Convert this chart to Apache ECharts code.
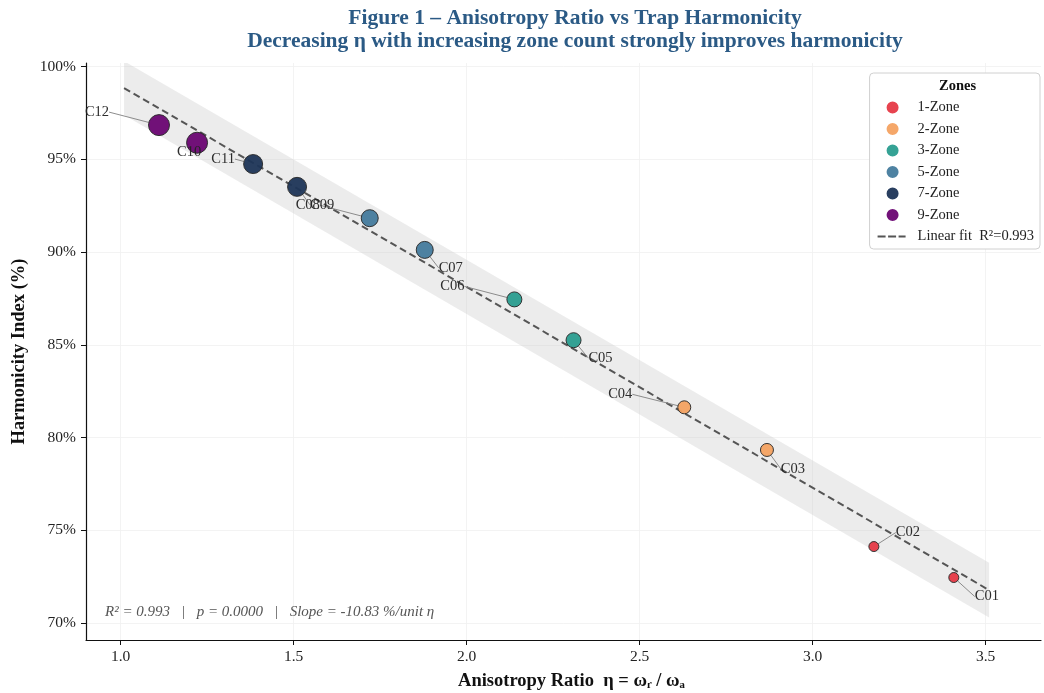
<!DOCTYPE html>
<html>
<head>
<meta charset="utf-8">
<script src="https://cdn.jsdelivr.net/npm/echarts@6/dist/echarts.min.js"></script>
<style>html,body{margin:0;padding:0;background:#fff;}#c{width:1044px;height:693px;}</style>
</head>
<body>
<div id="c"></div>
<script>
// ---- data ----
const names = ['C01','C02','C03','C04','C05','C06','C07','C08','C09','C10','C11','C12'];
const eta   = [3.408, 3.177, 2.868, 2.629, 2.309, 2.138, 1.879, 1.720, 1.510, 1.221, 1.383, 1.111];
const harm  = [72.45, 74.12, 79.33, 81.63, 85.25, 87.45, 90.12, 91.83, 93.52, 95.90, 94.75, 96.85];
const zones = [1, 1, 2, 2, 3, 3, 5, 5, 7, 9, 7, 9];
const zoneList = [1, 2, 3, 5, 7, 9];
const fitX = [1.01, 3.51];
const fitY = [98.85, 71.77];
const bandUpper = [100.30, 73.25];
const bandLower = [97.40, 70.30];
const xTicks = [1.0, 1.5, 2.0, 2.5, 3.0, 3.5];
const yTicks = [70, 75, 80, 85, 90, 95, 100];

// ---- styles ----
const FONT = 'Liberation Serif';
const zoneColor = {1:'#e63946', 2:'#f4a261', 3:'#2a9d8f', 5:'#457b9d', 7:'#1d3557', 9:'#6a0572'};
const zoneSize  = {1:10, 2:13, 3:15, 5:17, 7:19, 9:21};
const labelOffset = {
  C01:[33,19], C02:[34,-14], C03:[26,19], C04:[-64,-13], C05:[27,18], C06:[-62,-13],
  C07:[26,18], C08:[-62,-13], C09:[25,18], C10:[-8,9], C11:[-30,-5], C12:[-62,-13]
};
const FIT_NAME = 'Linear fit  R²=0.993';
// legend icons in a 35x12 box (invisible corner dots keep the box from being stretched)
const BOX = 'M0,0h0.01v0.01h-0.01z M34.99,11.99h0.01v0.01h-0.01z ';
const DASH_ICON = 'path://' + BOX + 'M0,5h8v2h-8z M10.5,5h8v2h-8z M21,5h7v2h-7z';
const DOT_ICON = 'path://' + BOX + 'M21,6a6,6 0 1,1 -12,0a6,6 0 1,1 12,0z';

const scatterSeries = zoneList.map(function(z){
  const idx = [];
  for (let i = 0; i < names.length; i++) if (zones[i] === z) idx.push(i);
  const nm = idx.map(i => names[i]);
  return {
    name: z + '-Zone',
    type: 'scatter',
    z: 5,
    symbolSize: zoneSize[z],
    itemStyle: {color: zoneColor[z], borderColor: '#2b2b2b', borderWidth: 1, opacity: 0.95},
    label: {show: true, position: 'inside', formatter: p => nm[p.dataIndex],
            fontFamily: FONT, fontSize: 14.5, color: '#222'},
    labelLine: {show: true, lineStyle: {color: '#808080', width: 0.9}},
    labelLayout: function(p){
      const o = labelOffset[nm[p.dataIndex]];
      return {dx: o[0], dy: o[1]};
    },
    data: idx.map(i => [eta[i], harm[i]])
  };
});

const bandSeries = {
  type: 'custom',
  silent: true,
  z: 1,
  clip: true,
  data: fitX.map((x, i) => [x, bandUpper[i], bandLower[i]]),
  renderItem: function(params, api){
    if (params.dataIndex !== 0) return null;
    const pts = [];
    for (let i = 0; i < fitX.length; i++) pts.push(api.coord([fitX[i], bandUpper[i]]));
    for (let i = fitX.length - 1; i >= 0; i--) pts.push(api.coord([fitX[i], bandLower[i]]));
    return {type: 'polygon', shape: {points: pts}, style: {fill: 'rgba(200,200,200,0.35)', stroke: 'none'}};
  },
  encode: {x: 0, y: [1, 2]}
};

const fitSeries = {
  name: FIT_NAME,
  type: 'line',
  z: 3,
  symbol: 'none',
  silent: true,
  lineStyle: {color: '#555555', width: 2, type: [7, 4]},
  itemStyle: {color: '#555555'},
  data: fitX.map((x, i) => [x, fitY[i]])
};

const chart = echarts.init(document.getElementById('c'), null, {renderer: 'canvas'});
chart.setOption({
  animation: false,
  backgroundColor: '#ffffff',
  title: {
    text: 'Figure 1 – Anisotropy Ratio vs Trap Harmonicity\nDecreasing η with increasing zone count strongly improves harmonicity',
    left: 570, top: 2, textAlign: 'center',
    textStyle: {fontFamily: FONT, fontSize: 21.5, fontWeight: 'bold', color: '#2b5a85', lineHeight: 23}
  },
  grid: {left: 86, right: 3, top: 63, bottom: 53, containLabel: false, outerBoundsMode: 'none'},
  xAxis: {
    type: 'value', min: 0.9, max: 3.66,
    name: 'Anisotropy Ratio  η = ωᵣ / ωₐ', nameLocation: 'middle', nameGap: 32,
    nameTextStyle: {fontFamily: FONT, fontSize: 18.5, fontWeight: 'bold', color: '#111', padding: [0, 0, 0, 16]},
    axisLine: {show: true, onZero: false, lineStyle: {color: '#111', width: 1.2}},
    axisTick: {show: true, length: 5, lineStyle: {color: '#111'}, customValues: xTicks},
    axisLabel: {customValues: xTicks, formatter: v => Number(v).toFixed(1), margin: 9,
                fontFamily: FONT, fontSize: 15.5, color: '#222'},
    splitLine: {show: true, lineStyle: {color: '#f0f0f0', width: 0.8}}
  },
  yAxis: {
    type: 'value', min: 69.08, max: 100.2,
    name: 'Harmonicity Index (%)', nameLocation: 'middle', nameGap: 55,
    nameTextStyle: {fontFamily: FONT, fontSize: 18.5, fontWeight: 'bold', color: '#111'},
    axisLine: {show: true, onZero: false, lineStyle: {color: '#111', width: 1.2}},
    axisTick: {show: true, length: 5, lineStyle: {color: '#111'}, customValues: yTicks},
    axisLabel: {customValues: yTicks, formatter: v => Math.round(v) + '%', margin: 10,
                fontFamily: FONT, fontSize: 15.5, color: '#222'},
    splitLine: {show: true, lineStyle: {color: '#f0f0f0', width: 0.8}}
  },
  legend: {
    orient: 'vertical', right: 4, top: 73,
    padding: [27, 6, 5, 8],
    itemWidth: 35, itemHeight: 12, itemGap: 6.5,
    backgroundColor: '#ffffff', borderColor: '#d0d0d0', borderWidth: 1, borderRadius: 4,
    textStyle: {fontFamily: FONT, fontSize: 14.5, color: '#222', lineHeight: 15},
    data: zoneList.map(z => ({name: z + '-Zone', icon: DOT_ICON, itemStyle: {borderWidth: 0}}))
      .concat([{name: FIT_NAME, icon: DASH_ICON, itemStyle: {color: '#555555', borderWidth: 0}}])
  },
  graphic: [
    {type: 'text', left: 939, top: 79, z: 100,
     style: {text: 'Zones', fontFamily: FONT, fontSize: 14.5, fontWeight: 'bold', fill: '#111'}},
    {type: 'text', left: 105, top: 605, z: 100,
     style: {text: 'R² = 0.993   |   p = 0.0000   |   Slope = -10.83 %/unit η', fontFamily: FONT, fontSize: 15, fontStyle: 'italic', fill: '#555'}}
  ],
  series: [bandSeries, fitSeries].concat(scatterSeries)
});
</script>
</body>
</html>
